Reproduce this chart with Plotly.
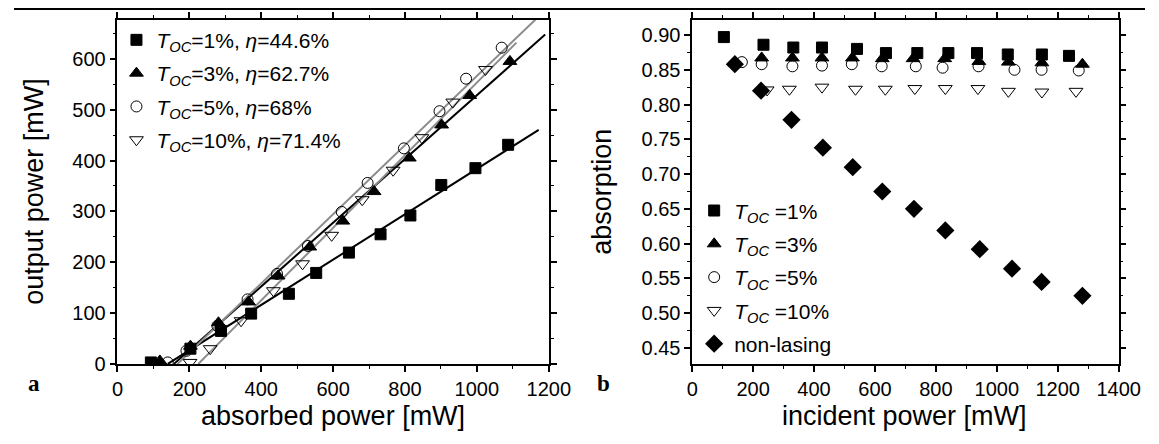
import plotly.graph_objects as go

# ---------------- Panel a: output power vs absorbed power ----------------
abs_1 = [93, 203, 288, 372, 477, 553, 644, 732, 815, 901, 996, 1087]
out_1 = [3, 30, 65, 99, 138, 179, 219, 255, 292, 352, 385, 431]
abs_3 = [118, 203, 281, 365, 447, 535, 627, 714, 812, 902, 980, 1092]
out_3 = [6, 35, 81, 122, 173, 230, 281, 339, 405, 470, 528, 595]
abs_5 = [140, 192, 278, 362, 444, 530, 624, 696, 797, 896, 970, 1069]
out_5 = [3, 26, 75, 127, 177, 232, 299, 356, 424, 497, 561, 622]
abs_10 = [202, 258, 344, 434, 515, 596, 681, 767, 847, 933, 1024]
out_10 = [3, 30, 85, 144, 197, 253, 323, 381, 445, 515, 579]

# linear fits: slope (eta), threshold, end of fitted line
fit_slope = [0.446, 0.627, 0.68, 0.714]
fit_threshold = [140, 157, 167, 225]
fit_end = [1172, 1190, 1175, 1110]
fit_color = ["black", "black", "#8c8c8c", "#8c8c8c"]

# ---------------- Panel b: absorption vs incident power ----------------
inc_1 = [104, 234, 332, 426, 541, 636, 739, 841, 935, 1036, 1148, 1237]
absn_1 = [0.897, 0.886, 0.882, 0.882, 0.880, 0.874, 0.874, 0.874, 0.874, 0.872, 0.872, 0.870]
inc_3 = [140, 228, 329, 426, 526, 624, 725, 829, 941, 1038, 1148, 1281]
absn_3 = [0.861, 0.867, 0.867, 0.867, 0.867, 0.866, 0.866, 0.866, 0.862, 0.861, 0.860, 0.858]
inc_5 = [163, 228, 329, 426, 524, 622, 734, 822, 940, 1058, 1147, 1269]
absn_5 = [0.861, 0.858, 0.855, 0.856, 0.858, 0.855, 0.855, 0.853, 0.855, 0.850, 0.850, 0.849]
inc_10 = [246, 319, 426, 536, 634, 731, 831, 938, 1038, 1148, 1260]
absn_10 = [0.821, 0.822, 0.825, 0.822, 0.822, 0.823, 0.823, 0.823, 0.819, 0.818, 0.819]
inc_nl = [140, 226, 326, 429, 527, 624, 728, 831, 944, 1050, 1147, 1281]
absn_nl = [0.858, 0.820, 0.778, 0.738, 0.710, 0.675, 0.650, 0.619, 0.592, 0.564, 0.545, 0.525]

toc = ["1%", "3%", "5%", "10%"]
eta = ["44.6%", "62.7%", "68%", "71.4%"]
symbols = ["square", "triangle-up", "circle-open", "triangle-down-open"]
sizes = [11, 12, 11, 12]

FONT = "Arial, Liberation Sans, sans-serif"
SERIF = "Liberation Serif, Times New Roman, serif"
W, H = 1159, 444


def px_x(p):
    return p / W


def px_y(p):
    return 1 - p / H


fig = go.Figure()

# fit lines (panel a)
for s, t, e, c in zip(fit_slope, fit_threshold, fit_end, fit_color):
    fig.add_trace(go.Scatter(x=[t, e], y=[0, s * (e - t)], mode="lines",
                             line=dict(color=c, width=2), showlegend=False,
                             hoverinfo="skip", xaxis="x", yaxis="y"))

series_a = [(abs_1, out_1), (abs_3, out_3), (abs_5, out_5), (abs_10, out_10)]
for i, (xs, ys) in enumerate(series_a):
    name = f"<i>T</i><sub><i>OC</i></sub>={toc[i]}, <i>η</i>={eta[i]}"
    fig.add_trace(go.Scatter(x=xs, y=ys, mode="markers", name=name,
                             marker=dict(symbol=symbols[i], size=sizes[i], color="black",
                                         line=dict(color="black", width=1)),
                             legend="legend", legendgroup=f"a{i}",
                             xaxis="x", yaxis="y"))

series_b = [(inc_1, absn_1), (inc_3, absn_3), (inc_5, absn_5), (inc_10, absn_10)]
for i, (xs, ys) in enumerate(series_b):
    name = f"<i>T</i><sub><i>OC</i></sub> ={toc[i]}"
    fig.add_trace(go.Scatter(x=xs, y=ys, mode="markers", name=name,
                             marker=dict(symbol=symbols[i], size=sizes[i], color="black",
                                         line=dict(color="black", width=1)),
                             legend="legend2", legendgroup=f"b{i}",
                             xaxis="x2", yaxis="y2"))
fig.add_trace(go.Scatter(x=inc_nl, y=absn_nl, mode="markers", name="non-lasing<sub> </sub>",
                         marker=dict(symbol="diamond", size=14, color="black"),
                         legend="legend2", legendgroup="b4",
                         xaxis="x2", yaxis="y2"))

axis_common = dict(showline=True, linecolor="black", linewidth=1.5, mirror="ticks",
                   ticks="outside", ticklen=6, tickwidth=1.5, tickcolor="black",
                   showgrid=False, zeroline=False,
                   tickfont=dict(family=FONT, size=20, color="black"))
minor_common = dict(ticks="outside", ticklen=3, tickwidth=1.2, tickcolor="black")

ybot, ytop = px_y(365), px_y(12)

fig.update_layout(
    width=W, height=H, margin=dict(l=0, r=0, t=0, b=0),
    paper_bgcolor="white", plot_bgcolor="white",
    font=dict(family=FONT, color="black"),
    xaxis=dict(domain=[px_x(106), px_x(548)], range=[0, 1200], dtick=200,
               minor=dict(dtick=100, **minor_common), anchor="y", **axis_common),
    yaxis=dict(domain=[ybot, ytop], range=[0, 677], dtick=100,
               minor=dict(dtick=50, **minor_common), anchor="x", **axis_common),
    xaxis2=dict(domain=[px_x(695), px_x(1132)], range=[0, 1400], dtick=200,
                minor=dict(dtick=100, **minor_common), anchor="y2", **axis_common),
    yaxis2=dict(domain=[ybot, ytop], range=[0.427, 0.922], dtick=0.05, tickformat=".2f",
                minor=dict(dtick=0.025, **minor_common), anchor="x2", **axis_common),
    legend=dict(x=px_x(105), y=px_y(12), xanchor="left", yanchor="top",
                bgcolor="rgba(0,0,0,0)", borderwidth=0, tracegroupgap=3,
                font=dict(family=FONT, size=21, color="black")),
    legend2=dict(x=px_x(697), y=px_y(187), xanchor="left", yanchor="top",
                 bgcolor="rgba(0,0,0,0)", borderwidth=0, tracegroupgap=3,
                 font=dict(family=FONT, size=21, color="black")),
    showlegend=True,
)

title_font = dict(family=FONT, size=27, color="black")


def label(text, x, y, font, angle=0):
    return dict(text=text, x=px_x(x), y=px_y(y), xref="paper", yref="paper",
                xanchor="center", yanchor="middle", showarrow=False,
                textangle=angle, font=font)


ann = [
    label("absorbed power [mW]", 327, 418, title_font),
    label("incident power [mW]", 913, 418, title_font),
    label("output power [mW]", 21, 188, title_font, -90),
    label("absorption", 603, 188, title_font, -90),
    label("<b>a</b>", 21, 385, dict(family=SERIF, size=23, color="black")),
    label("<b>b</b>", 604, 385, dict(family=SERIF, size=23, color="black")),
]
fig.update_layout(annotations=ann)

fig.add_shape(type="line", xref="paper", yref="paper", x0=0, x1=1, y0=px_y(1), y1=px_y(1),
              line=dict(color="black", width=2))

fig.write_html("out.html")
